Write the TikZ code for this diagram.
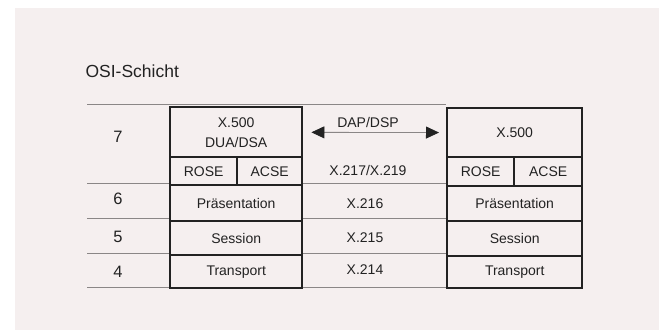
\documentclass[tikz,border=0pt]{standalone}
\usepackage{fontspec}
\setmainfont{Liberation Sans}
\usetikzlibrary{arrows.meta}
\definecolor{bgpink}{HTML}{F5EFEF}
\definecolor{ink}{HTML}{222222}
\definecolor{rule}{HTML}{8A8686}
\begin{document}
\begin{tikzpicture}[x=1pt,y=-1pt,
  layer/.style={draw=ink, line width=2.4pt, fill=bgpink, inner sep=0pt, anchor=north west, text=ink, font=\fontsize{14}{18}\selectfont, align=center},
  sep/.style={draw=rule, line width=0.8pt},
  num/.style={text=ink, font=\fontsize{16.5}{18}\selectfont},
  std/.style={text=ink, font=\fontsize{14}{18}\selectfont},
  dap/.style={draw=rule, line width=0.8pt, {Triangle[length=13pt,width=12pt,fill=ink,color=ink]}-{Triangle[length=13pt,width=12pt,fill=ink,color=ink]}}]
\useasboundingbox (0,0) rectangle (659,331);
\fill[white] (0,0) rectangle (659,331);
\fill[bgpink] (15,8) rectangle (659,330);
% separator rows
\coordinate (s0) at (87,104);
\coordinate (s1) at (87,183);
\coordinate (s2) at (87,218);
\coordinate (s3) at (87,253);
\coordinate (s4) at (87,287);
\coordinate (e0) at (446,104);
\coordinate (e1) at (446,183);
\coordinate (e2) at (446,218);
\coordinate (e3) at (446,253);
\coordinate (e4) at (446,287);
\foreach \i in {0,...,4} \draw[sep] (s\i) -- (e\i);
% title
\node[anchor=west, text=ink, font=\fontsize{17.5}{20}\selectfont] (title) at (82,71) {OSI-Schicht};
% layer numbers
\node[num] (n7) at (118,137) {7};
\node[num] (n6) at (118,199) {6};
\node[num] (n5) at (118,237) {5};
\node[num] (n4) at (118,272) {4};
% left stack
\node[layer, minimum width=132pt, minimum height=50pt] (lx) at (169,106) {X.500\\[2pt]DUA/DSA};
\node[layer, minimum width=67pt, minimum height=28pt] (lrose) at (169,156) {ROSE};
\node[layer, minimum width=65pt, minimum height=28pt] (lacse) at (236,156) {ACSE};
\node[layer, minimum width=132pt, minimum height=36pt] (lp) at (169,184) {Präsentation};
\node[layer, minimum width=132pt, minimum height=34pt] (ls) at (169,220) {Session};
\node[layer, minimum width=132pt, minimum height=33pt] (lt) at (169,254) {Transport};
% right stack
\node[layer, minimum width=135pt, minimum height=49pt] (rx) at (446,107) {X.500};
\node[layer, minimum width=67pt, minimum height=29pt] (rrose) at (446,156) {ROSE};
\node[layer, minimum width=68pt, minimum height=29pt] (racse) at (513,156) {ACSE};
\node[layer, minimum width=135pt, minimum height=35pt] (rp) at (446,185) {Präsentation};
\node[layer, minimum width=135pt, minimum height=35pt] (rs) at (446,220) {Session};
\node[layer, minimum width=135pt, minimum height=32pt] (rt) at (446,255) {Transport};
% middle column
\draw[dap, shorten <=8pt, shorten >=7pt] (lx) -- (rx);
\node[std] (dsp) at (368,122) {DAP/DSP};
\node[std] (x217) at (368,170) {X.217/X.219};
\node[std] (x216) at (365,204) {X.216};
\node[std] (x215) at (365,238) {X.215};
\node[std] (x214) at (365,270) {X.214};
\end{tikzpicture}
\end{document}
